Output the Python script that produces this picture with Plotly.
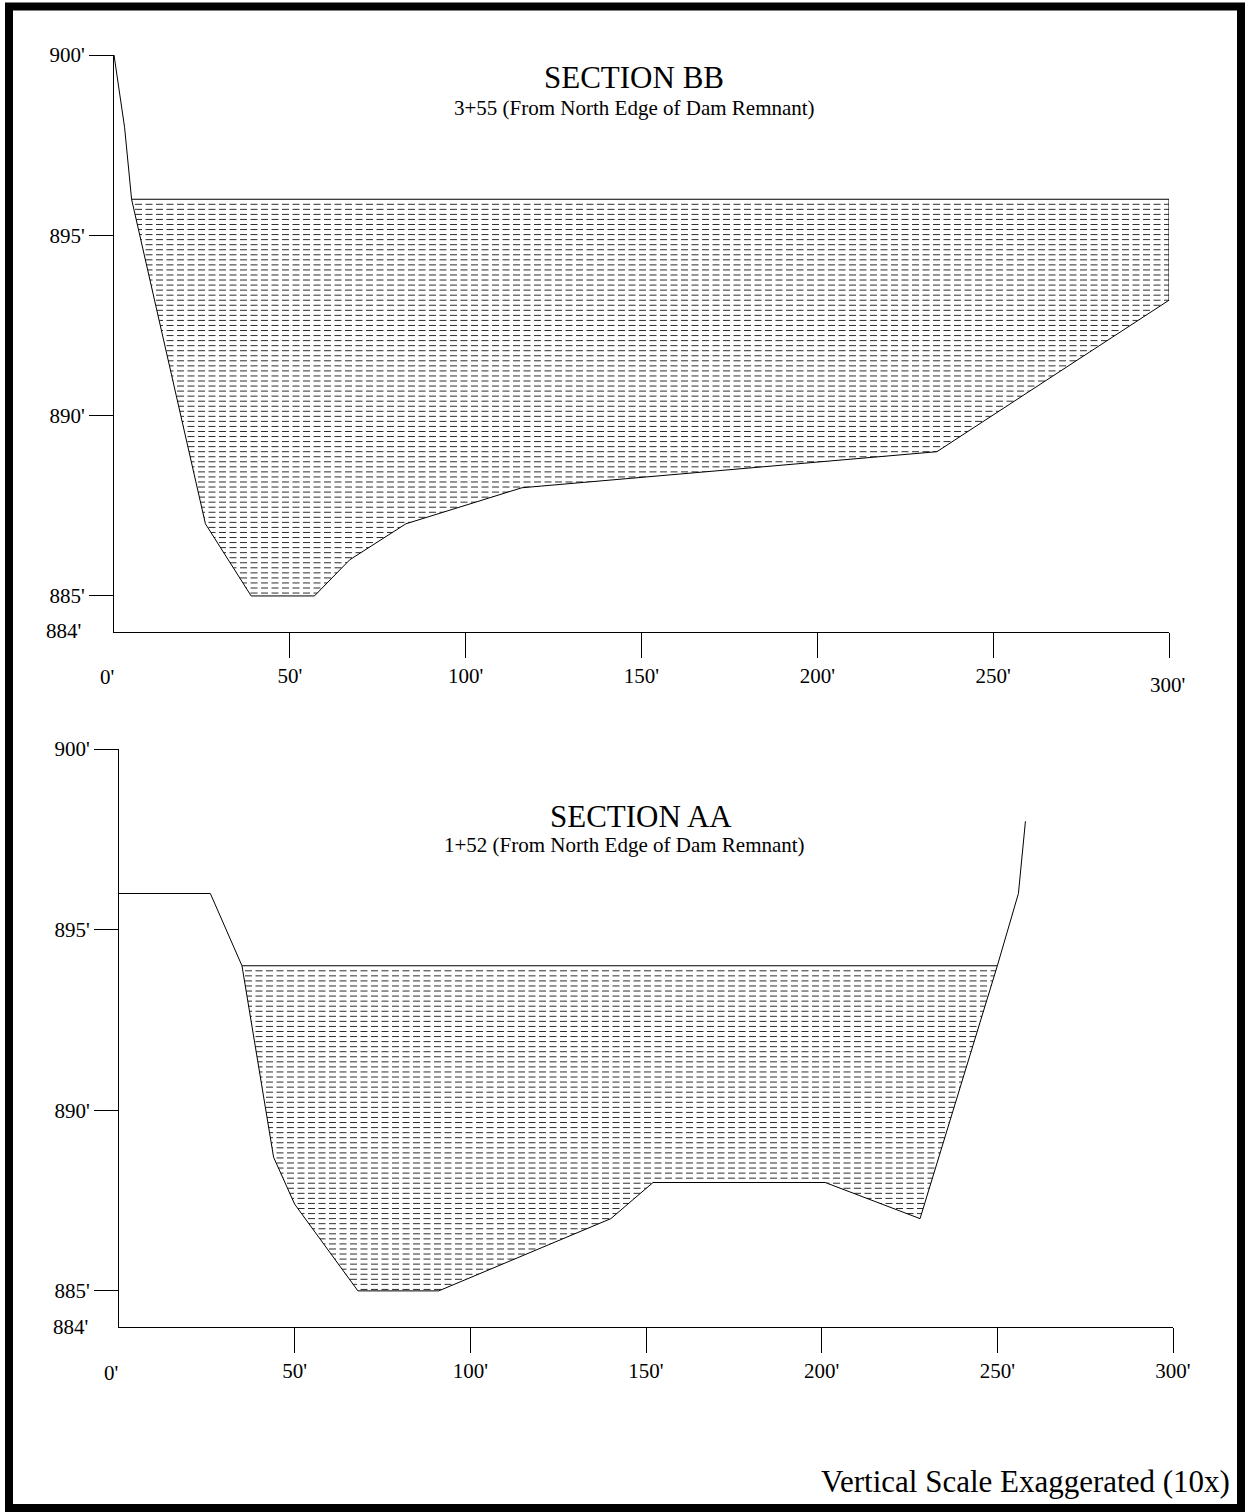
import numpy as np
import plotly.graph_objects as go

W, H = 1246, 1512
FONT = "Liberation Serif"

# Section BB (3+55): ground profile, station (ft) vs elevation (ft)
bb_station = [0, 3, 5, 26, 39, 57, 67, 83, 116, 234, 300]
bb_elev = [900, 898, 896, 887, 885, 885, 886, 887, 888, 889, 893.2]
bb_water_level = 896
bb_water_start = 5
bb_water_end = 300

# Section AA (1+52): ground profile
aa_station = [0, 26, 35, 44, 50, 68, 91, 140, 152, 201, 228, 250, 256, 258]
aa_elev = [896, 896, 894, 888.7, 887.4, 885, 885, 887, 888, 888, 887, 894, 896, 898]
aa_water_level = 894
aa_water_start = 35
aa_water_end = 250

y_tick_vals = [885, 890, 895, 900]
y_tick_text = ["885'", "890'", "895'", "900'"]
x_tick_vals = [50, 100, 150, 200, 250, 300]
x_tick_text = ["50'", "100'", "150'", "200'", "250'", "300'"]


def px_x(p):
    return p / W


def px_y(p):
    return 1 - p / H


fig = go.Figure()


def add_section(xa, ya, station, elev, level, w_start, w_end):
    # hatch rows inside the water body
    rows = np.arange(level - 0.14, 884.85, -0.14)
    for r in rows:
        fig.add_trace(go.Scatter(
            x=[0, w_end], y=[r, r], mode="lines", xaxis=xa, yaxis=ya,
            line=dict(color="#2e2e2e", width=1, dash="7px,3.5px"),
            hoverinfo="skip", showlegend=False))
    # white mask for the ground below the profile
    fig.add_trace(go.Scatter(
        x=list(station) + [station[-1], station[0]],
        y=list(elev) + [884, 884],
        mode="lines", fill="toself", fillcolor="white",
        line=dict(width=0, color="white"), xaxis=xa, yaxis=ya,
        hoverinfo="skip", showlegend=False))
    # water surface
    fig.add_trace(go.Scatter(
        x=[w_start, w_end], y=[level, level], mode="lines",
        line=dict(color="black", width=1), xaxis=xa, yaxis=ya,
        hoverinfo="skip", showlegend=False))
    # ground profile
    fig.add_trace(go.Scatter(
        x=station, y=elev, mode="lines",
        line=dict(color="black", width=1), xaxis=xa, yaxis=ya,
        hoverinfo="skip", showlegend=False))


add_section("x", "y", bb_station, bb_elev, bb_water_level, bb_water_start, bb_water_end)
# right edge of the water body in section BB
fig.add_trace(go.Scatter(
    x=[bb_water_end, bb_water_end], y=[bb_water_level, bb_elev[-1]], mode="lines",
    line=dict(color="black", width=1), xaxis="x", yaxis="y",
    hoverinfo="skip", showlegend=False))
add_section("x2", "y2", aa_station, aa_elev, aa_water_level, aa_water_start, aa_water_end)

tickfont = dict(family=FONT, size=21, color="black")
xcommon = dict(range=[0, 300], showgrid=False, zeroline=False, showline=True,
               linecolor="black", linewidth=1, ticks="outside", ticklen=25,
               tickcolor="black", tickwidth=1, tickfont=tickfont,
               tickvals=x_tick_vals, fixedrange=True, automargin=False)
ycommon = dict(range=[884, 900], showgrid=False, zeroline=False, showline=True,
               linecolor="black", linewidth=1, ticks="outside", ticklen=24,
               tickcolor="black", tickwidth=1, tickfont=tickfont,
               tickvals=y_tick_vals, ticktext=y_tick_text, fixedrange=True,
               automargin=False)

fig.update_layout(
    width=W, height=H, autosize=False,
    margin=dict(l=0, r=0, t=0, b=0, pad=0),
    paper_bgcolor="white", plot_bgcolor="white",
    showlegend=False,
    xaxis=dict(**xcommon, domain=[px_x(114), px_x(1169)], anchor="y",
               ticktext=x_tick_text[:-1] + [""]),
    yaxis=dict(**ycommon, domain=[px_y(632), px_y(55)], anchor="x"),
    xaxis2=dict(**xcommon, domain=[px_x(119), px_x(1173)], anchor="y2",
                ticktext=x_tick_text),
    yaxis2=dict(**ycommon, domain=[px_y(1327), px_y(749)], anchor="x2"),
)


def label(text, x, y, size=21, xanchor="center"):
    fig.add_annotation(text=text, x=px_x(x), y=px_y(y), xref="paper", yref="paper",
                       xanchor=xanchor, yanchor="middle", showarrow=False,
                       font=dict(family=FONT, size=size, color="black"))


label("SECTION BB", 634, 77.5, size=31)
label("3+55 (From North Edge of Dam Remnant)", 634, 108)
label("SECTION AA", 641, 816, size=31)
label("1+52 (From North Edge of Dam Remnant)", 624, 845)
label("884'", 83, 631, xanchor="right")
label("884'", 90, 1327, xanchor="right")
label("0'", 107, 677)
label("300'", 1167, 685)
label("0'", 111, 1373)
label("Vertical Scale Exaggerated (10x)", 1232, 1481, size=31, xanchor="right")

# page frame
fig.add_shape(type="rect", xref="paper", yref="paper",
              x0=px_x(9), x1=px_x(1241), y0=px_y(1508), y1=px_y(6.5),
              line=dict(color="black", width=8), fillcolor="rgba(0,0,0,0)")

fig.write_html("out.html")
